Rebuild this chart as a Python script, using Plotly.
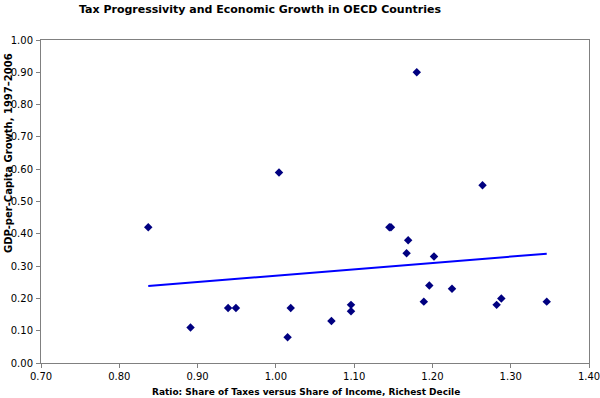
import numpy as np
import plotly.graph_objects as go

# Ratio: share of taxes vs share of income, richest decile
ratio = [0.837, 0.891, 0.939, 0.949, 1.004, 1.015, 1.019, 1.071, 1.096, 1.096,
         1.145, 1.147, 1.167, 1.169, 1.180, 1.189, 1.196, 1.202, 1.225, 1.264,
         1.282, 1.288, 1.346]
# GDP-per-capita growth 1997-2006
growth = [0.42, 0.11, 0.17, 0.17, 0.59, 0.08, 0.17, 0.13, 0.18, 0.16,
          0.42, 0.42, 0.34, 0.38, 0.90, 0.19, 0.24, 0.33, 0.23, 0.55,
          0.18, 0.20, 0.19]

x_ticks = [0.70, 0.80, 0.90, 1.00, 1.10, 1.20, 1.30, 1.40]
y_ticks = [0.00, 0.10, 0.20, 0.30, 0.40, 0.50, 0.60, 0.70, 0.80, 0.90, 1.00]

title = "Tax Progressivity and Economic Growth in OECD Countries"
x_title = "Ratio: Share of Taxes versus Share of Income, Richest Decile"
y_title = "GDP-per-Capita Growth, 1997–2006"

slope, intercept = np.polyfit(ratio, growth, 1)
tx = [min(ratio), max(ratio)]
ty = [slope * v + intercept for v in tx]

fig = go.Figure()
fig.add_trace(go.Scatter(x=tx, y=ty, mode="lines",
                         line=dict(color="#0000FF", width=2), hoverinfo="skip"))
fig.add_trace(go.Scatter(x=ratio, y=growth, mode="markers",
                         marker=dict(symbol="diamond", color="#000080", size=6.5)))

font = "Verdana, DejaVu Sans, sans-serif"
axis_common = dict(showgrid=False, zeroline=False, showline=True, linecolor="#808080",
                   linewidth=1, mirror=True, ticks="outside", tickcolor="#808080",
                   ticklen=4, tickformat=".2f", automargin=False,
                   ticklabeloverflow="allow",
                   tickfont=dict(family=font, size=10, color="#000000"))

L, R, T, B = 41, 11, 40, 35
W, H = 600, 398

fig.update_layout(
    width=W, height=H,
    margin=dict(l=L, r=R, t=T, b=B),
    paper_bgcolor="white", plot_bgcolor="white",
    showlegend=False,
    font=dict(family=font),
    xaxis=dict(range=[0.70, 1.40], tickvals=x_ticks, **axis_common),
    yaxis=dict(range=[0.0, 1.0], tickvals=y_ticks, ticklabelstandoff=1, **axis_common),
    annotations=[
        dict(text="<b>%s</b>" % title, x=260, y=389, xref="paper", yref="paper",
             xanchor="center", yanchor="middle",
             showarrow=False, font=dict(family=font, size=11, color="#000000")),
        dict(text="<b>%s</b>" % x_title, x=306, y=6, xref="paper", yref="paper",
             xanchor="center", yanchor="middle",
             showarrow=False, font=dict(family=font, size=9, color="#000000")),
        dict(text="<b>%s</b>" % y_title, x=8, y=245, xref="paper", yref="paper",
             xanchor="center", yanchor="middle",
             textangle=-90, showarrow=False,
             font=dict(family=font, size=10, color="#000000")),
    ],
)

# convert pixel positions (x from left, y from bottom) to paper coords
for a in fig.layout.annotations:
    a.x = (a.x - L) / (W - L - R)
    a.y = (a.y - B) / (H - T - B)

fig.write_html("out.html",
               config={"displayModeBar": False},
               post_script="document.body.style.margin='0';document.body.style.overflow='hidden';")
